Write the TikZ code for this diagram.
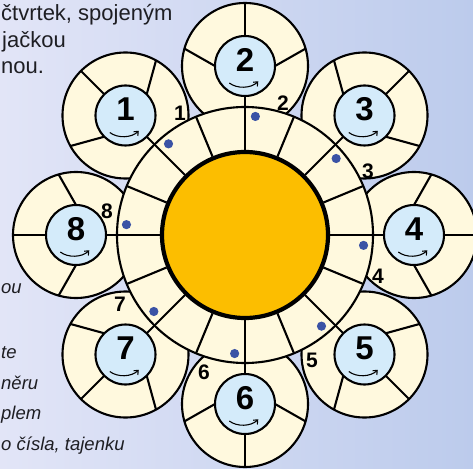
\documentclass[tikz,border=0pt]{standalone}
\usepackage{fontspec}
\setmainfont{Liberation Sans}
\usetikzlibrary{arrows.meta}
\definecolor{cream}{RGB}{255,249,222}
\definecolor{petalblue}{RGB}{212,235,250}
\definecolor{sunyellow}{RGB}{252,190,0}
\definecolor{dotblue}{RGB}{58,82,165}
\definecolor{bgleft}{RGB}{226,229,247}
\definecolor{bgright}{RGB}{188,203,236}
\definecolor{textdark}{RGB}{30,30,35}
\begin{document}
\begin{tikzpicture}[x=1pt,y=1pt,
  ln/.style={line width=2.1pt},
  petalnode/.style={circle, draw, line width=2.1pt, fill=cream, minimum size=126pt, inner sep=0pt, outer sep=0pt},
  hubnode/.style={circle, draw, line width=2.1pt, fill=petalblue, minimum size=60pt, inner sep=0pt, outer sep=0pt},
  ringnode/.style={circle, draw, line width=2.1pt, fill=cream, minimum size=256pt, inner sep=0pt, outer sep=0pt},
  sunnode/.style={circle, draw, line width=4.2pt, fill=sunyellow, minimum size=166pt, inner sep=0pt, outer sep=0pt},
  hubnum/.style={font=\bfseries\fontsize{33}{36}\selectfont, inner sep=0pt},
  lab/.style={font=\bfseries\fontsize{21}{24}\selectfont, inner sep=0pt},
  toptext/.style={font=\fontsize{22}{26}\selectfont, text=textdark, inner sep=0pt},
  sidetext/.style={font=\itshape\fontsize{18.5}{23}\selectfont, text=textdark, inner sep=0pt, anchor=base west},
  turn/.style={line width=1.1pt, -{Straight Barb[length=3.5pt,width=6pt]}}
]
\useasboundingbox (-245,-233) rectangle (228,235);
\shade[left color=bgleft, right color=bgright] (-245,-233) rectangle (228,235);

% petals
\foreach \k/\a in {1/135,2/90,3/45,4/0,5/315,6/270,7/225,8/180}{
  \pgfmathtruncatemacro{\bl}{mod(\a+90,360)}
  \pgfmathtruncatemacro{\br}{mod(\a+270,360)}
  \pgfmathtruncatemacro{\el}{mod(\a+74,360)}
  \pgfmathtruncatemacro{\er}{mod(\a+286,360)}
  \coordinate (p\k) at (\a:169);
  \node[petalnode] (petal\k) at (p\k) {};
  \node[hubnode] (hub\k) at (p\k) {};
  \draw[ln] (hub\k.\a) -- (petal\k.\a);
  \draw[ln] (hub\k.\bl) -- (petal\k.\el);
  \draw[ln] (hub\k.\br) -- (petal\k.\er);
  \node[hubnum] (num\k) at ([yshift=6pt]p\k) {\k};
  \draw[turn] ([shift={(-15.7,-17)}]p\k) .. controls ([shift={(-8,-23)}]p\k) and ([shift={(6,-22.5)}]p\k) .. ([shift={(13.3,-15.3)}]p\k);
}

% big ring and sun
\node[ringnode] (ring) at (0,0) {};
\foreach \t in {0,22.5,...,337.5}{
  \draw[ln] (\t:85) -- (\t:128);
}
\node[sunnode] (sun) at (0,0) {};

% connectors ring -> hubs, dots
\foreach \k/\a in {1/135,2/90,3/45,4/0,5/315,6/270,7/225,8/180}{
  \pgfmathtruncatemacro{\op}{mod(\a+180,360)}
  \draw[ln] (ring.\a) -- (hub\k.\op);
  \fill[dotblue] (\a-5:119) circle[radius=4.6pt];
}

% small number labels
\node[lab] (lab1) at (-65,122) {1};
\node[lab] (lab2) at (38,132) {2};
\node[lab] (lab3) at (123,64) {3};
\node[lab] (lab4) at (133,-41) {4};
\node[lab] (lab5) at (67,-125) {5};
\node[lab] (lab6) at (-41,-137) {6};
\node[lab] (lab7) at (-125,-69) {7};
\node[lab] (lab8) at (-138,24) {8};

% text fragments
\node[toptext, anchor=base west] (t1) at (-244,214) {čtvrtek, spojeným};
\node[toptext, anchor=base west] (t2) at (-243,187) {jačkou};
\node[toptext, anchor=base west] (t3) at (-244,161) {nou.};
\node[sidetext] (s1) at (-244,-58) {ou};
\node[sidetext] (s2) at (-244,-123) {te};
\node[sidetext] (s3) at (-244,-154) {něru};
\node[sidetext] (s4) at (-244,-184) {plem};
\node[sidetext] (s5) at (-244,-215) {o čísla, tajenku};
\end{tikzpicture}
\end{document}
